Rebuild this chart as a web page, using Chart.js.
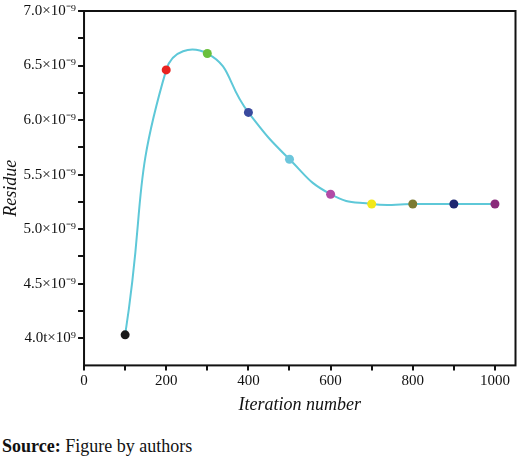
<!DOCTYPE html>
<html>
<head>
<meta charset="utf-8">
<script src="https://cdn.jsdelivr.net/npm/chart.js@4"></script>
<style>
  body { margin: 0; background: #fff; font-family: "Liberation Serif", serif; }
  #wrap { position: relative; width: 520px; height: 418px; }
  #source { position: absolute; left: 2px; top: 436px; font-size: 18px; color: #111; }
</style>
</head>
<body>
<div id="wrap"><canvas id="chart"></canvas></div>
<div id="source"><b>Source:</b> Figure by authors</div>
<script>
// Iterations and residue (in units of 10^-9)
const iterations = [100, 200, 300, 400, 500, 600, 700, 800, 900, 1000];
const residue = [4.03, 6.46, 6.61, 6.07, 5.64, 5.32, 5.23, 5.23, 5.23, 5.23];
const pointColors = ['#1a1a1a', '#e8231f', '#6abf3c', '#3a4a9e', '#6cc6dc', '#b24aa6', '#f2e81a', '#7b7a32', '#1e2670', '#8a2a7a'];
const yTickLabels = {
  '4': '4.0t×10⁹', '4.5': '4.5×10⁻⁹', '5': '5.0×10⁻⁹', '5.5': '5.5×10⁻⁹',
  '6': '6.0×10⁻⁹', '6.5': '6.5×10⁻⁹', '7': '7.0×10⁻⁹'
};

const boxPlugin = {
  id: 'box',
  afterDraw(chart) {
    const { ctx, chartArea: a } = chart;
    ctx.save();
    ctx.strokeStyle = '#111';
    ctx.lineWidth = 2;
    ctx.strokeRect(a.left, a.top, a.right - a.left, a.bottom - a.top);
    ctx.restore();
  }
};

const font = { family: 'Liberation Serif', size: 15 };

new Chart(document.getElementById('chart'), {
  type: 'line',
  data: {
    datasets: [{
      data: iterations.map((x, i) => ({ x, y: residue[i] })),
      borderColor: '#5ec8d8',
      borderWidth: 2,
      tension: 0.5,
      pointRadius: 4.5,
      pointBackgroundColor: pointColors,
      pointBorderWidth: 0
    }]
  },
  options: {
    responsive: true,
    maintainAspectRatio: false,
    animation: false,
    layout: { padding: { top: 8, right: 2 } },
    plugins: { legend: { display: false }, tooltip: { enabled: false } },
    scales: {
      x: {
        type: 'linear', min: 0, max: 1050,
        afterBuildTicks: s => { s.ticks = []; for (let v = 0; v <= 1000; v += 100) s.ticks.push({ value: v }); },
        ticks: { color: '#111', font, maxRotation: 0, padding: 2, callback: v => v % 200 === 0 ? v : '' },
        grid: { drawOnChartArea: false, color: '#111', tickLength: 5, lineWidth: 2 },
        border: { display: false },
        title: { display: true, text: 'Iteration number', color: '#111', padding: 2, font: { family: 'Liberation Serif', size: 18, style: 'italic' } }
      },
      y: {
        min: 3.75, max: 7.0,
        afterBuildTicks: s => { s.ticks = []; for (let v = 4; v <= 7.0001; v += 0.25) s.ticks.push({ value: Math.round(v * 100) / 100 }); },
        ticks: { color: '#111', font, padding: 2, callback: v => yTickLabels[String(v)] || '' },
        grid: { drawOnChartArea: false, color: '#111', tickLength: 6, lineWidth: 2 },
        border: { display: false },
        title: { display: true, text: 'Residue', color: '#111', padding: 0, font: { family: 'Liberation Serif', size: 18, style: 'italic' } }
      }
    }
  },
  plugins: [boxPlugin]
});
</script>
</body>
</html>
